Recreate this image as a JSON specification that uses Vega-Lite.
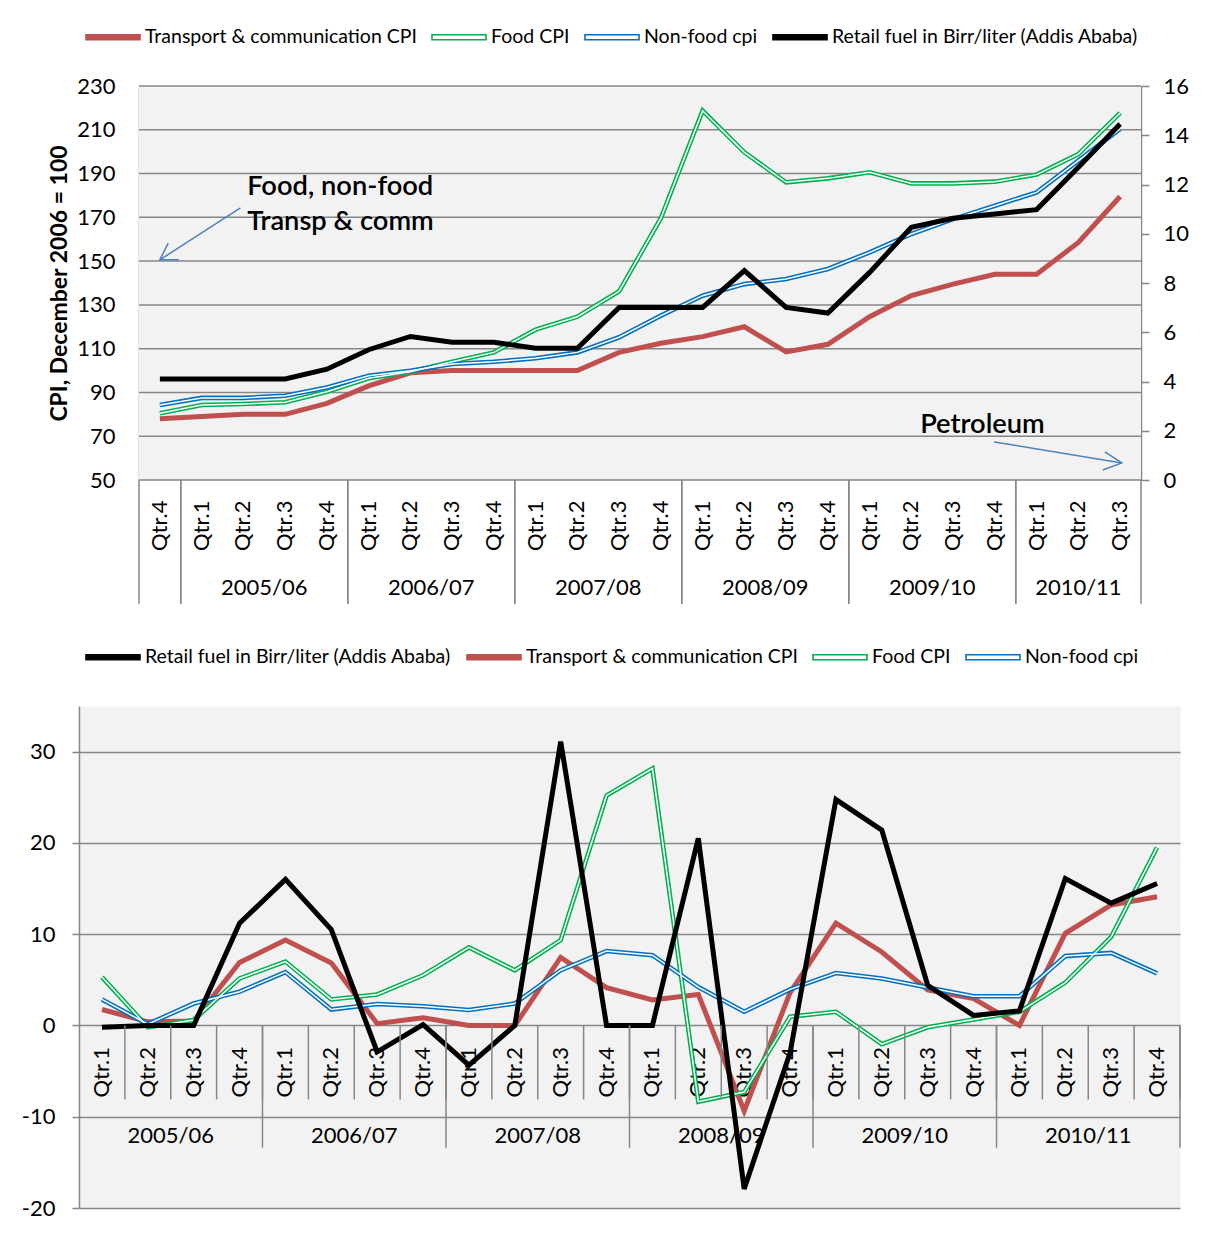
{
  "$schema": "https://vega.github.io/schema/vega-lite/v6.json",
  "background": "white",
  "padding": {"left": 20, "top": 8, "right": 0, "bottom": 5},
  "spacing": 23,
  "config": {
    "font": "Lato",
    "view": {"fill": "#f2f2f2", "stroke": "transparent"},
    "axis": {"labelFont": "Lato", "labelColor": "#000000", "labelFontSize": 22, "domainColor": "#868686", "tickColor": "#868686", "gridColor": "#868686", "gridWidth": 1.5, "domainWidth": 1.5, "tickWidth": 1.5, "titleFont": "Lato", "titleColor": "#000000"},
    "legend": {"labelFont": "Lato", "labelColor": "#000000", "labelLimit": 0},
    "text": {"font": "Lato", "color": "#000000"}
  },
  "resolve": {"scale": {"color": "independent"}, "legend": {"color": "independent"}},
  "datasets": {
    "lv": [
      {"k": "2004/05 Qtr.4", "s": "transport", "v": 78},
      {"k": "2005/06 Qtr.1", "s": "transport", "v": 79},
      {"k": "2005/06 Qtr.2", "s": "transport", "v": 80},
      {"k": "2005/06 Qtr.3", "s": "transport", "v": 80},
      {"k": "2005/06 Qtr.4", "s": "transport", "v": 85},
      {"k": "2006/07 Qtr.1", "s": "transport", "v": 93},
      {"k": "2006/07 Qtr.2", "s": "transport", "v": 99},
      {"k": "2006/07 Qtr.3", "s": "transport", "v": 100},
      {"k": "2006/07 Qtr.4", "s": "transport", "v": 100},
      {"k": "2007/08 Qtr.1", "s": "transport", "v": 100},
      {"k": "2007/08 Qtr.2", "s": "transport", "v": 100},
      {"k": "2007/08 Qtr.3", "s": "transport", "v": 108.3},
      {"k": "2007/08 Qtr.4", "s": "transport", "v": 112.5},
      {"k": "2008/09 Qtr.1", "s": "transport", "v": 115.5},
      {"k": "2008/09 Qtr.2", "s": "transport", "v": 120},
      {"k": "2008/09 Qtr.3", "s": "transport", "v": 108.5},
      {"k": "2008/09 Qtr.4", "s": "transport", "v": 112},
      {"k": "2009/10 Qtr.1", "s": "transport", "v": 124.6},
      {"k": "2009/10 Qtr.2", "s": "transport", "v": 134.3},
      {"k": "2009/10 Qtr.3", "s": "transport", "v": 139.5},
      {"k": "2009/10 Qtr.4", "s": "transport", "v": 144},
      {"k": "2010/11 Qtr.1", "s": "transport", "v": 144},
      {"k": "2010/11 Qtr.2", "s": "transport", "v": 158.5},
      {"k": "2010/11 Qtr.3", "s": "transport", "v": 179.5},
      {"k": "2004/05 Qtr.4", "s": "food", "v": 80.5},
      {"k": "2005/06 Qtr.1", "s": "food", "v": 84.3},
      {"k": "2005/06 Qtr.2", "s": "food", "v": 84.7},
      {"k": "2005/06 Qtr.3", "s": "food", "v": 85.5},
      {"k": "2005/06 Qtr.4", "s": "food", "v": 90.3},
      {"k": "2006/07 Qtr.1", "s": "food", "v": 96.5},
      {"k": "2006/07 Qtr.2", "s": "food", "v": 99.5},
      {"k": "2006/07 Qtr.3", "s": "food", "v": 104},
      {"k": "2006/07 Qtr.4", "s": "food", "v": 108.3},
      {"k": "2007/08 Qtr.1", "s": "food", "v": 118.7},
      {"k": "2007/08 Qtr.2", "s": "food", "v": 124.6},
      {"k": "2007/08 Qtr.3", "s": "food", "v": 136.2},
      {"k": "2007/08 Qtr.4", "s": "food", "v": 169.6},
      {"k": "2008/09 Qtr.1", "s": "food", "v": 218.7},
      {"k": "2008/09 Qtr.2", "s": "food", "v": 199.7},
      {"k": "2008/09 Qtr.3", "s": "food", "v": 186},
      {"k": "2008/09 Qtr.4", "s": "food", "v": 187.8},
      {"k": "2009/10 Qtr.1", "s": "food", "v": 190.6},
      {"k": "2009/10 Qtr.2", "s": "food", "v": 185.5},
      {"k": "2009/10 Qtr.3", "s": "food", "v": 185.5},
      {"k": "2009/10 Qtr.4", "s": "food", "v": 186.3},
      {"k": "2010/11 Qtr.1", "s": "food", "v": 189.5},
      {"k": "2010/11 Qtr.2", "s": "food", "v": 198.9},
      {"k": "2010/11 Qtr.3", "s": "food", "v": 217.7},
      {"k": "2004/05 Qtr.4", "s": "nonfood", "v": 84.3},
      {"k": "2005/06 Qtr.1", "s": "nonfood", "v": 87.5},
      {"k": "2005/06 Qtr.2", "s": "nonfood", "v": 87.5},
      {"k": "2005/06 Qtr.3", "s": "nonfood", "v": 88.5},
      {"k": "2005/06 Qtr.4", "s": "nonfood", "v": 92.3},
      {"k": "2006/07 Qtr.1", "s": "nonfood", "v": 97.6},
      {"k": "2006/07 Qtr.2", "s": "nonfood", "v": 99.9},
      {"k": "2006/07 Qtr.3", "s": "nonfood", "v": 103},
      {"k": "2006/07 Qtr.4", "s": "nonfood", "v": 104},
      {"k": "2007/08 Qtr.1", "s": "nonfood", "v": 105.6},
      {"k": "2007/08 Qtr.2", "s": "nonfood", "v": 108.3},
      {"k": "2007/08 Qtr.3", "s": "nonfood", "v": 115.2},
      {"k": "2007/08 Qtr.4", "s": "nonfood", "v": 125.1},
      {"k": "2008/09 Qtr.1", "s": "nonfood", "v": 134.2},
      {"k": "2008/09 Qtr.2", "s": "nonfood", "v": 139.5},
      {"k": "2008/09 Qtr.3", "s": "nonfood", "v": 141.8},
      {"k": "2008/09 Qtr.4", "s": "nonfood", "v": 146.4},
      {"k": "2009/10 Qtr.1", "s": "nonfood", "v": 154},
      {"k": "2009/10 Qtr.2", "s": "nonfood", "v": 162.4},
      {"k": "2009/10 Qtr.3", "s": "nonfood", "v": 169.2},
      {"k": "2009/10 Qtr.4", "s": "nonfood", "v": 175.3},
      {"k": "2010/11 Qtr.1", "s": "nonfood", "v": 181.4},
      {"k": "2010/11 Qtr.2", "s": "nonfood", "v": 195.9},
      {"k": "2010/11 Qtr.3", "s": "nonfood", "v": 210.4},
      {"k": "2004/05 Qtr.4", "s": "fuel", "v": 4.1},
      {"k": "2005/06 Qtr.1", "s": "fuel", "v": 4.1},
      {"k": "2005/06 Qtr.2", "s": "fuel", "v": 4.1},
      {"k": "2005/06 Qtr.3", "s": "fuel", "v": 4.1},
      {"k": "2005/06 Qtr.4", "s": "fuel", "v": 4.5},
      {"k": "2006/07 Qtr.1", "s": "fuel", "v": 5.29},
      {"k": "2006/07 Qtr.2", "s": "fuel", "v": 5.83},
      {"k": "2006/07 Qtr.3", "s": "fuel", "v": 5.59},
      {"k": "2006/07 Qtr.4", "s": "fuel", "v": 5.59},
      {"k": "2007/08 Qtr.1", "s": "fuel", "v": 5.35},
      {"k": "2007/08 Qtr.2", "s": "fuel", "v": 5.35},
      {"k": "2007/08 Qtr.3", "s": "fuel", "v": 7.01},
      {"k": "2007/08 Qtr.4", "s": "fuel", "v": 7.01},
      {"k": "2008/09 Qtr.1", "s": "fuel", "v": 7.01},
      {"k": "2008/09 Qtr.2", "s": "fuel", "v": 8.5},
      {"k": "2008/09 Qtr.3", "s": "fuel", "v": 7.01},
      {"k": "2008/09 Qtr.4", "s": "fuel", "v": 6.78},
      {"k": "2009/10 Qtr.1", "s": "fuel", "v": 8.43},
      {"k": "2009/10 Qtr.2", "s": "fuel", "v": 10.26},
      {"k": "2009/10 Qtr.3", "s": "fuel", "v": 10.63},
      {"k": "2009/10 Qtr.4", "s": "fuel", "v": 10.8},
      {"k": "2010/11 Qtr.1", "s": "fuel", "v": 10.98},
      {"k": "2010/11 Qtr.2", "s": "fuel", "v": 12.7},
      {"k": "2010/11 Qtr.3", "s": "fuel", "v": 14.46}
    ],
    "pc": [
      {"k": "2005/06 Qtr.1", "s": "fuel", "v": -0.2},
      {"k": "2005/06 Qtr.2", "s": "fuel", "v": 0},
      {"k": "2005/06 Qtr.3", "s": "fuel", "v": 0},
      {"k": "2005/06 Qtr.4", "s": "fuel", "v": 11.2},
      {"k": "2006/07 Qtr.1", "s": "fuel", "v": 16.0},
      {"k": "2006/07 Qtr.2", "s": "fuel", "v": 10.5},
      {"k": "2006/07 Qtr.3", "s": "fuel", "v": -2.9},
      {"k": "2006/07 Qtr.4", "s": "fuel", "v": 0.1},
      {"k": "2007/08 Qtr.1", "s": "fuel", "v": -4.35},
      {"k": "2007/08 Qtr.2", "s": "fuel", "v": 0},
      {"k": "2007/08 Qtr.3", "s": "fuel", "v": 31.1},
      {"k": "2007/08 Qtr.4", "s": "fuel", "v": 0},
      {"k": "2008/09 Qtr.1", "s": "fuel", "v": 0},
      {"k": "2008/09 Qtr.2", "s": "fuel", "v": 20.5},
      {"k": "2008/09 Qtr.3", "s": "fuel", "v": -17.9},
      {"k": "2008/09 Qtr.4", "s": "fuel", "v": -3.0},
      {"k": "2009/10 Qtr.1", "s": "fuel", "v": 24.75},
      {"k": "2009/10 Qtr.2", "s": "fuel", "v": 21.4},
      {"k": "2009/10 Qtr.3", "s": "fuel", "v": 4.4},
      {"k": "2009/10 Qtr.4", "s": "fuel", "v": 1.1},
      {"k": "2010/11 Qtr.1", "s": "fuel", "v": 1.6},
      {"k": "2010/11 Qtr.2", "s": "fuel", "v": 16.1},
      {"k": "2010/11 Qtr.3", "s": "fuel", "v": 13.4},
      {"k": "2010/11 Qtr.4", "s": "fuel", "v": 15.55},
      {"k": "2005/06 Qtr.1", "s": "transport", "v": 1.75},
      {"k": "2005/06 Qtr.2", "s": "transport", "v": 0.4},
      {"k": "2005/06 Qtr.3", "s": "transport", "v": 0.5},
      {"k": "2005/06 Qtr.4", "s": "transport", "v": 6.9},
      {"k": "2006/07 Qtr.1", "s": "transport", "v": 9.35},
      {"k": "2006/07 Qtr.2", "s": "transport", "v": 6.85},
      {"k": "2006/07 Qtr.3", "s": "transport", "v": 0.2},
      {"k": "2006/07 Qtr.4", "s": "transport", "v": 0.85},
      {"k": "2007/08 Qtr.1", "s": "transport", "v": 0},
      {"k": "2007/08 Qtr.2", "s": "transport", "v": 0},
      {"k": "2007/08 Qtr.3", "s": "transport", "v": 7.45},
      {"k": "2007/08 Qtr.4", "s": "transport", "v": 4.15},
      {"k": "2008/09 Qtr.1", "s": "transport", "v": 2.8},
      {"k": "2008/09 Qtr.2", "s": "transport", "v": 3.4},
      {"k": "2008/09 Qtr.3", "s": "transport", "v": -9.35},
      {"k": "2008/09 Qtr.4", "s": "transport", "v": 3.6},
      {"k": "2009/10 Qtr.1", "s": "transport", "v": 11.2},
      {"k": "2009/10 Qtr.2", "s": "transport", "v": 8.05},
      {"k": "2009/10 Qtr.3", "s": "transport", "v": 3.9},
      {"k": "2009/10 Qtr.4", "s": "transport", "v": 2.95},
      {"k": "2010/11 Qtr.1", "s": "transport", "v": 0},
      {"k": "2010/11 Qtr.2", "s": "transport", "v": 10.1},
      {"k": "2010/11 Qtr.3", "s": "transport", "v": 13.2},
      {"k": "2010/11 Qtr.4", "s": "transport", "v": 14.1},
      {"k": "2005/06 Qtr.1", "s": "food", "v": 5.3},
      {"k": "2005/06 Qtr.2", "s": "food", "v": -0.2},
      {"k": "2005/06 Qtr.3", "s": "food", "v": 0.6},
      {"k": "2005/06 Qtr.4", "s": "food", "v": 5.15},
      {"k": "2006/07 Qtr.1", "s": "food", "v": 7.0},
      {"k": "2006/07 Qtr.2", "s": "food", "v": 2.85},
      {"k": "2006/07 Qtr.3", "s": "food", "v": 3.4},
      {"k": "2006/07 Qtr.4", "s": "food", "v": 5.5},
      {"k": "2007/08 Qtr.1", "s": "food", "v": 8.55},
      {"k": "2007/08 Qtr.2", "s": "food", "v": 6.05},
      {"k": "2007/08 Qtr.3", "s": "food", "v": 9.35},
      {"k": "2007/08 Qtr.4", "s": "food", "v": 25.2},
      {"k": "2008/09 Qtr.1", "s": "food", "v": 28.15},
      {"k": "2008/09 Qtr.2", "s": "food", "v": -8.35},
      {"k": "2008/09 Qtr.3", "s": "food", "v": -7.3},
      {"k": "2008/09 Qtr.4", "s": "food", "v": 0.95},
      {"k": "2009/10 Qtr.1", "s": "food", "v": 1.5},
      {"k": "2009/10 Qtr.2", "s": "food", "v": -2.05},
      {"k": "2009/10 Qtr.3", "s": "food", "v": -0.2},
      {"k": "2009/10 Qtr.4", "s": "food", "v": 0.65},
      {"k": "2010/11 Qtr.1", "s": "food", "v": 1.5},
      {"k": "2010/11 Qtr.2", "s": "food", "v": 4.7},
      {"k": "2010/11 Qtr.3", "s": "food", "v": 9.7},
      {"k": "2010/11 Qtr.4", "s": "food", "v": 19.5},
      {"k": "2005/06 Qtr.1", "s": "nonfood", "v": 2.85},
      {"k": "2005/06 Qtr.2", "s": "nonfood", "v": 0.15},
      {"k": "2005/06 Qtr.3", "s": "nonfood", "v": 2.4},
      {"k": "2005/06 Qtr.4", "s": "nonfood", "v": 3.7},
      {"k": "2006/07 Qtr.1", "s": "nonfood", "v": 5.85},
      {"k": "2006/07 Qtr.2", "s": "nonfood", "v": 1.75},
      {"k": "2006/07 Qtr.3", "s": "nonfood", "v": 2.35},
      {"k": "2006/07 Qtr.4", "s": "nonfood", "v": 2.1},
      {"k": "2007/08 Qtr.1", "s": "nonfood", "v": 1.7},
      {"k": "2007/08 Qtr.2", "s": "nonfood", "v": 2.4},
      {"k": "2007/08 Qtr.3", "s": "nonfood", "v": 6.05},
      {"k": "2007/08 Qtr.4", "s": "nonfood", "v": 8.15},
      {"k": "2008/09 Qtr.1", "s": "nonfood", "v": 7.7},
      {"k": "2008/09 Qtr.2", "s": "nonfood", "v": 4.2},
      {"k": "2008/09 Qtr.3", "s": "nonfood", "v": 1.5},
      {"k": "2008/09 Qtr.4", "s": "nonfood", "v": 3.95},
      {"k": "2009/10 Qtr.1", "s": "nonfood", "v": 5.75},
      {"k": "2009/10 Qtr.2", "s": "nonfood", "v": 5.15},
      {"k": "2009/10 Qtr.3", "s": "nonfood", "v": 4.15},
      {"k": "2009/10 Qtr.4", "s": "nonfood", "v": 3.2},
      {"k": "2010/11 Qtr.1", "s": "nonfood", "v": 3.2},
      {"k": "2010/11 Qtr.2", "s": "nonfood", "v": 7.6},
      {"k": "2010/11 Qtr.3", "s": "nonfood", "v": 7.95},
      {"k": "2010/11 Qtr.4", "s": "nonfood", "v": 5.7}
    ],
    "yt": [
      {"first": "2004/05 Qtr.4", "last": "2004/05 Qtr.4"},
      {"yr": "2005/06", "first": "2005/06 Qtr.1", "last": "2005/06 Qtr.4", "mid": "2005/06 Qtr.2"},
      {"yr": "2006/07", "first": "2006/07 Qtr.1", "last": "2006/07 Qtr.4", "mid": "2006/07 Qtr.2"},
      {"yr": "2007/08", "first": "2007/08 Qtr.1", "last": "2007/08 Qtr.4", "mid": "2007/08 Qtr.2"},
      {"yr": "2008/09", "first": "2008/09 Qtr.1", "last": "2008/09 Qtr.4", "mid": "2008/09 Qtr.2"},
      {"yr": "2009/10", "first": "2009/10 Qtr.1", "last": "2009/10 Qtr.4", "mid": "2009/10 Qtr.2"},
      {"yr": "2010/11", "first": "2010/11 Qtr.1", "last": "2010/11 Qtr.3", "mid": "2010/11 Qtr.2"}
    ],
    "yb": [
      {"yr": "2005/06", "last": "2005/06 Qtr.4", "mid": "2005/06 Qtr.2"},
      {"yr": "2006/07", "last": "2006/07 Qtr.4", "mid": "2006/07 Qtr.2"},
      {"yr": "2007/08", "last": "2007/08 Qtr.4", "mid": "2007/08 Qtr.2"},
      {"yr": "2008/09", "last": "2008/09 Qtr.4", "mid": "2008/09 Qtr.2"},
      {"yr": "2009/10", "last": "2009/10 Qtr.4", "mid": "2009/10 Qtr.2"},
      {"yr": "2010/11", "last": "2010/11 Qtr.4", "mid": "2010/11 Qtr.2"}
    ],
    "gt": [{"t": 50}, {"t": 70}, {"t": 90}, {"t": 110}, {"t": 130}, {"t": 150}, {"t": 170}, {"t": 190}, {"t": 210}, {"t": 230}],
    "one": [{}]
  },
  "vconcat": [
    {
      "width": 1101,
      "height": 394,
      "view": {"fill": "transparent", "stroke": "transparent"},
      "layer": [
        {
          "layer": [
            {"data": {"name": "one"}, "mark": {"type": "rect", "color": "#f2f2f2"},
              "encoding": {"x": {"datum": "2004/05 Qtr.4", "type": "ordinal", "bandPosition": 0}, "x2": {"datum": "2010/11 Qtr.3", "bandPosition": 1}, "y": {"datum": 50, "type": "quantitative"}, "y2": {"datum": 230}}},
            {"data": {"name": "gt"}, "mark": {"type": "rule", "color": "#868686", "strokeWidth": 1.5},
              "encoding": {"x": {"datum": "2004/05 Qtr.4", "type": "ordinal", "bandPosition": 0}, "x2": {"datum": "2010/11 Qtr.3", "bandPosition": 1}, "y": {"field": "t", "type": "quantitative"}}},
            {"data": {"name": "lv"}, "transform": [{"filter": "datum.s == 'transport'"}],
              "mark": {"type": "line", "strokeWidth": 5},
              "encoding": {
                "x": {"field": "k", "type": "ordinal", "scale": {"type": "band", "paddingInner": 0, "paddingOuter": 0, "range": [60, 1062]},
                  "axis": {"title": null, "labelExpr": "slice(datum.value, 8)", "labelAngle": -90, "labelPadding": 20, "ticks": false, "domain": false, "labelFontSize": 22}},
                "y": {"field": "v", "type": "quantitative", "scale": {"domain": [50, 230], "nice": false, "zero": false},
                  "axis": {"orient": "left", "offset": -60, "values": [50, 70, 90, 110, 130, 150, 170, 190, 210, 230], "grid": false, "ticks": false, "labelPadding": 24, "title": "CPI, December 2006 = 100", "titleFontSize": 23, "titleFontWeight": "bold", "titlePadding": 5}},
                "color": {"field": "s", "type": "nominal", "scale": {"domain": ["transport", "food", "nonfood", "fuel"], "range": ["#c0504d", "#00b050", "#0070c0", "#000000"]},
                "legend": {"orient": "none", "legendX": 6, "legendY": -77, "direction": "horizontal", "title": null, "symbolType": "M-1,-0.09H1V0.09H-1Z", "symbolSize": 2916, "labelFontSize": 19.5, "labelOffset": 4, "columnPadding": 11,
                  "labelExpr": "datum.value == 'transport' ? 'Transport & communication CPI' : datum.value == 'food' ? 'Food CPI' : datum.value == 'nonfood' ? 'Non-food cpi' : 'Retail fuel in Birr/liter (Addis Ababa)'",
                  "encode": {"symbols": {"update": {"fill": {"signal": "datum.value == 'transport' ? '#c0504d' : datum.value == 'fuel' ? '#000000' : '#ffffff'"}, "stroke": {"signal": "datum.value == 'transport' ? '#c0504d' : datum.value == 'food' ? '#00b050' : datum.value == 'nonfood' ? '#0070c0' : '#000000'"}, "strokeWidth": {"value": 1.6}, "opacity": {"value": 1}}}}}}}},
            {"data": {"name": "lv"}, "transform": [{"filter": "datum.s == 'food' || datum.s == 'nonfood'"}],
              "mark": {"type": "line", "strokeWidth": 4.6},
              "encoding": {
                "x": {"field": "k", "type": "ordinal"},
                "y": {"field": "v", "type": "quantitative"},
                "color": {"field": "s", "type": "nominal"}}},
            {"data": {"name": "lv"}, "transform": [{"filter": "datum.s == 'food' || datum.s == 'nonfood'"}],
              "mark": {"type": "line", "strokeWidth": 1.5, "color": "#ffffff"},
              "encoding": {
                "x": {"field": "k", "type": "ordinal"},
                "y": {"field": "v", "type": "quantitative"},
                "detail": {"field": "s", "type": "nominal"}}},
            {"data": {"name": "yt"}, "mark": {"type": "rule", "color": "#868686", "strokeWidth": 1.5},
              "encoding": {"x": {"field": "first", "type": "ordinal", "bandPosition": 0}, "y": {"datum": 50, "type": "quantitative"}, "y2": {"datum": -6.5}}},
            {"data": {"name": "yt"}, "mark": {"type": "rule", "color": "#868686", "strokeWidth": 1.5},
              "encoding": {"x": {"field": "last", "type": "ordinal", "bandPosition": 1}, "y": {"datum": 50, "type": "quantitative"}, "y2": {"datum": -6.5}}},
            {"data": {"name": "yt"}, "transform": [{"filter": "isValid(datum.yr) && datum.yr != '2010/11'"}],
              "mark": {"type": "text", "fontSize": 22, "baseline": "middle", "align": "center"},
              "encoding": {"x": {"field": "mid", "type": "ordinal", "bandPosition": 1}, "y": {"datum": 0.52, "type": "quantitative"}, "text": {"field": "yr"}}},
            {"data": {"name": "yt"}, "transform": [{"filter": "datum.yr == '2010/11'"}],
              "mark": {"type": "text", "fontSize": 22, "baseline": "middle", "align": "center"},
              "encoding": {"x": {"field": "mid", "type": "ordinal", "bandPosition": 0.5}, "y": {"datum": 0.52, "type": "quantitative"}, "text": {"field": "yr"}}},
            {"data": {"name": "one"}, "mark": {"type": "text", "text": "Food, non-food", "fontSize": 27.3, "fontWeight": 600, "align": "left", "baseline": "middle"},
              "encoding": {"x": {"datum": "2005/06 Qtr.2", "type": "ordinal", "bandPosition": 0.59}, "y": {"datum": 183.9, "type": "quantitative"}}},
            {"data": {"name": "one"}, "mark": {"type": "text", "text": "Transp & comm", "fontSize": 27.3, "fontWeight": 600, "align": "left", "baseline": "middle"},
              "encoding": {"x": {"datum": "2005/06 Qtr.2", "type": "ordinal", "bandPosition": 0.59}, "y": {"datum": 167.9, "type": "quantitative"}}},
            {"data": {"name": "one"}, "mark": {"type": "text", "text": "Petroleum", "fontSize": 27.3, "fontWeight": 600, "align": "left", "baseline": "middle"},
              "encoding": {"x": {"datum": "2009/10 Qtr.2", "type": "ordinal", "bandPosition": 0.71}, "y": {"datum": 75.1, "type": "quantitative"}}},
            {"data": {"name": "one"}, "mark": {"type": "rule", "color": "#4f81bd", "strokeWidth": 1.5},
              "encoding": {"x": {"datum": "2005/06 Qtr.2", "type": "ordinal", "bandPosition": 0.43}, "x2": {"datum": "2004/05 Qtr.4", "bandPosition": 0.5}, "y": {"datum": 174.3, "type": "quantitative"}, "y2": {"datum": 150.6}}},
            {"data": {"name": "one"}, "mark": {"type": "point", "shape": "M0.44,-0.88L0,0L1,0", "size": 1444, "filled": false, "color": "#4f81bd", "strokeWidth": 1.5, "opacity": 1},
              "encoding": {"x": {"datum": "2004/05 Qtr.4", "type": "ordinal", "bandPosition": 0.5}, "y": {"datum": 150.6, "type": "quantitative"}}},
            {"data": {"name": "one"}, "mark": {"type": "rule", "color": "#4f81bd", "strokeWidth": 1.5},
              "encoding": {"x": {"datum": "2009/10 Qtr.4", "type": "ordinal", "bandPosition": 0.48}, "x2": {"datum": "2010/11 Qtr.3", "bandPosition": 0.54}, "y": {"datum": 67.4, "type": "quantitative"}, "y2": {"datum": 57.8}}},
            {"data": {"name": "one"}, "mark": {"type": "point", "shape": "M-0.89,-0.58L0,0L-1,0.37", "size": 1444, "filled": false, "color": "#4f81bd", "strokeWidth": 1.5, "opacity": 1},
              "encoding": {"x": {"datum": "2010/11 Qtr.3", "type": "ordinal", "bandPosition": 0.54}, "y": {"datum": 57.8, "type": "quantitative"}}}
          ]
        },
        {
          "data": {"name": "lv"},
          "transform": [{"filter": "datum.s == 'fuel'"}],
          "mark": {"type": "line", "strokeWidth": 5},
          "encoding": {
            "x": {"field": "k", "type": "ordinal"},
            "y": {"field": "v", "type": "quantitative", "scale": {"domain": [0, 16], "nice": false, "zero": false},
              "axis": {"orient": "right", "offset": -39, "values": [0, 2, 4, 6, 8, 10, 12, 14, 16], "grid": false, "tickSize": 8, "labelPadding": 14, "title": null}},
            "color": {"field": "s", "type": "nominal"}
          }
        }
      ],
      "resolve": {"scale": {"y": "independent"}}
    },
    {
      "width": 1101,
      "height": 502,
      "view": {"fill": "#f2f2f2", "stroke": "transparent"},
      "layer": [
        {"data": {"name": "pc"}, "transform": [{"filter": "datum.s == 'transport'"}],
          "mark": {"type": "line", "strokeWidth": 5},
          "encoding": {
            "x": {"field": "k", "type": "ordinal", "scale": {"type": "band", "paddingInner": 0, "paddingOuter": 0},
              "axis": {"title": null, "labelExpr": "slice(datum.value, 8)", "labelAngle": -90, "labelPadding": 21, "ticks": false, "domain": false, "labelFontSize": 22, "offset": -182.5}},
            "y": {"field": "v", "type": "quantitative", "scale": {"domain": [-20, 35], "nice": false, "zero": false},
              "axis": {"values": [-20, -10, 0, 10, 20, 30], "grid": true, "tickSize": 7, "labelPadding": 17, "title": null, "labelExpr": "replace(datum.label, '−', '-')"}},
            "color": {"field": "s", "type": "nominal", "scale": {"domain": ["fuel", "transport", "food", "nonfood"], "range": ["#000000", "#c0504d", "#00b050", "#0070c0"]},
            "legend": {"orient": "none", "legendX": 6, "legendY": -77, "direction": "horizontal", "title": null, "symbolType": "M-1,-0.09H1V0.09H-1Z", "symbolSize": 2916, "labelFontSize": 19.5, "labelOffset": 4, "columnPadding": 11,
              "labelExpr": "datum.value == 'transport' ? 'Transport & communication CPI' : datum.value == 'food' ? 'Food CPI' : datum.value == 'nonfood' ? 'Non-food cpi' : 'Retail fuel in Birr/liter (Addis Ababa)'",
              "encode": {"symbols": {"update": {"fill": {"signal": "datum.value == 'transport' ? '#c0504d' : datum.value == 'fuel' ? '#000000' : '#ffffff'"}, "stroke": {"signal": "datum.value == 'transport' ? '#c0504d' : datum.value == 'food' ? '#00b050' : datum.value == 'nonfood' ? '#0070c0' : '#000000'"}, "strokeWidth": {"value": 1.6}, "opacity": {"value": 1}}}}}}}},
        {"data": {"name": "pc"}, "transform": [{"filter": "datum.s == 'food' || datum.s == 'nonfood'"}],
          "mark": {"type": "line", "strokeWidth": 4.6},
          "encoding": {"x": {"field": "k", "type": "ordinal"}, "y": {"field": "v", "type": "quantitative"}, "color": {"field": "s", "type": "nominal"}}},
        {"data": {"name": "pc"}, "transform": [{"filter": "datum.s == 'food' || datum.s == 'nonfood'"}],
          "mark": {"type": "line", "strokeWidth": 1.5, "color": "#ffffff"},
          "encoding": {"x": {"field": "k", "type": "ordinal"}, "y": {"field": "v", "type": "quantitative"}, "detail": {"field": "s", "type": "nominal"}}},
        {"data": {"name": "pc"}, "transform": [{"filter": "datum.s == 'fuel'"}],
          "mark": {"type": "line", "strokeWidth": 5},
          "encoding": {"x": {"field": "k", "type": "ordinal"}, "y": {"field": "v", "type": "quantitative"}, "color": {"field": "s", "type": "nominal"}}},
        {"data": {"name": "pc"}, "transform": [{"filter": "datum.s == 'food'"}], "mark": {"type": "rule", "color": "#868686", "strokeWidth": 1.5},
          "encoding": {"x": {"field": "k", "type": "ordinal", "bandPosition": 1}, "y": {"datum": 0, "type": "quantitative"}, "y2": {"datum": -8.1}}},
        {"data": {"name": "yb"}, "mark": {"type": "rule", "color": "#868686", "strokeWidth": 1.5},
          "encoding": {"x": {"field": "last", "type": "ordinal", "bandPosition": 1}, "y": {"datum": 0, "type": "quantitative"}, "y2": {"datum": -13.4}}},
        {"data": {"name": "yb"}, "mark": {"type": "text", "fontSize": 22, "baseline": "middle", "align": "center"},
          "encoding": {"x": {"field": "mid", "type": "ordinal", "bandPosition": 1}, "y": {"datum": -12.1, "type": "quantitative"}, "text": {"field": "yr"}}}
      ]
    }
  ]
}
